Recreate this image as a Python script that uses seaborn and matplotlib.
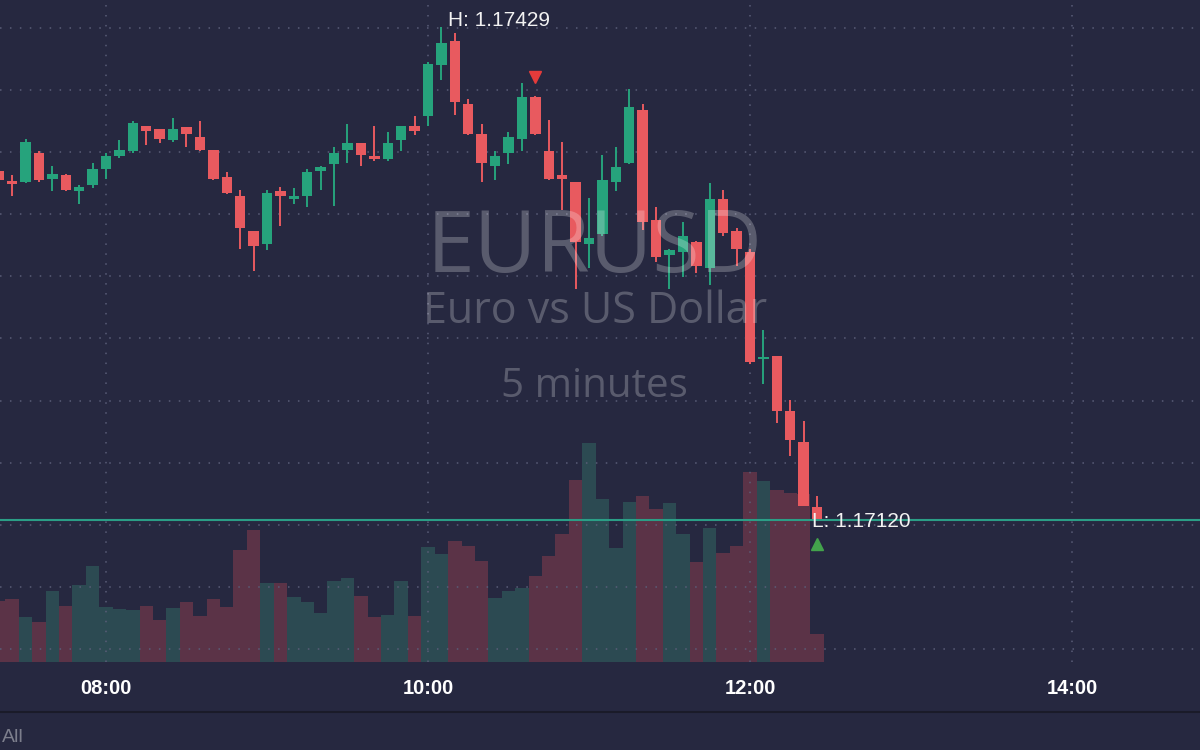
import numpy as np
import pandas as pd
import matplotlib
matplotlib.use("Agg")
import matplotlib.pyplot as plt
import matplotlib.transforms as mtransforms
from matplotlib.lines import Line2D
import seaborn as sns

# ---------------- data (EURUSD, 5 minute candles) ----------------
OPEN = [1.17339, 1.17332, 1.17332, 1.17350, 1.17334, 1.17336, 1.17326, 1.17330,
        1.17340, 1.17348, 1.17351, 1.17367, 1.17365, 1.17358, 1.17366, 1.17360,
        1.17352, 1.17335, 1.17323, 1.17301, 1.17293, 1.17326, 1.17321, 1.17323,
        1.17339, 1.17343, 1.17352, 1.17356, 1.17348, 1.17346, 1.17358, 1.17367,
        1.17373, 1.17405, 1.17420, 1.17381, 1.17362, 1.17342, 1.17350, 1.17359,
        1.17385, 1.17351, 1.17336, 1.17332, 1.17293, 1.17299, 1.17332, 1.17344,
        1.17377, 1.17308, 1.17286, 1.17288, 1.17294, 1.17278, 1.17321, 1.17301,
        1.17288, 1.17221, 1.17223, 1.17188, 1.17169, 1.17128]
HIGH = [1.17341, 1.17336, 1.17359, 1.17351, 1.17342, 1.17337, 1.17330, 1.17344,
        1.17350, 1.17358, 1.17370, 1.17367, 1.17365, 1.17372, 1.17366, 1.17370,
        1.17352, 1.17338, 1.17327, 1.17301, 1.17327, 1.17329, 1.17328, 1.17340,
        1.17342, 1.17354, 1.17368, 1.17356, 1.17367, 1.17363, 1.17367, 1.17373,
        1.17407, 1.17429, 1.17425, 1.17384, 1.17368, 1.17351, 1.17363, 1.17394,
        1.17386, 1.17371, 1.17357, 1.17332, 1.17322, 1.17349, 1.17354, 1.17390,
        1.17381, 1.17316, 1.17290, 1.17307, 1.17295, 1.17331, 1.17327, 1.17303,
        1.17290, 1.17239, 1.17223, 1.17195, 1.17182, 1.17135]
LOW = [1.17332, 1.17323, 1.17331, 1.17332, 1.17326, 1.17326, 1.17318, 1.17328,
       1.17334, 1.17347, 1.17350, 1.17355, 1.17356, 1.17357, 1.17354, 1.17351,
       1.17333, 1.17324, 1.17290, 1.17276, 1.17289, 1.17304, 1.17318, 1.17316,
       1.17327, 1.17317, 1.17344, 1.17342, 1.17345, 1.17345, 1.17351, 1.17361,
       1.17367, 1.17396, 1.17374, 1.17361, 1.17332, 1.17333, 1.17343, 1.17351,
       1.17361, 1.17333, 1.17314, 1.17265, 1.17278, 1.17298, 1.17326, 1.17343,
       1.17302, 1.17282, 1.17265, 1.17272, 1.17275, 1.17267, 1.17298, 1.17279,
       1.17218, 1.17205, 1.17181, 1.17160, 1.17129, 1.17120]
CLOSE = [1.17333, 1.17331, 1.17357, 1.17333, 1.17337, 1.17327, 1.17329, 1.17340,
         1.17348, 1.17352, 1.17369, 1.17364, 1.17359, 1.17365, 1.17362, 1.17352,
         1.17334, 1.17325, 1.17303, 1.17292, 1.17325, 1.17323, 1.17323, 1.17338,
         1.17341, 1.17350, 1.17356, 1.17349, 1.17346, 1.17356, 1.17367, 1.17364,
         1.17406, 1.17419, 1.17382, 1.17362, 1.17344, 1.17348, 1.17360, 1.17385,
         1.17362, 1.17334, 1.17334, 1.17294, 1.17297, 1.17333, 1.17341, 1.17379,
         1.17307, 1.17285, 1.17289, 1.17298, 1.17279, 1.17321, 1.17300, 1.17290,
         1.17219, 1.17222, 1.17188, 1.17170, 1.17129, 1.17120]
VOLUME = [610, 630, 450, 400, 710, 560, 770, 960,
          550, 530, 520, 560, 420, 540, 600, 460,
          630, 550, 1120, 1320, 790, 790, 650, 600,
          490, 810, 840, 660, 450, 470, 810, 460,
          1150, 1080, 1210, 1160, 1010, 640, 710, 740,
          860, 1060, 1280, 1820, 2190, 1630, 1140, 1600,
          1660, 1530, 1590, 1280, 1000, 1340, 1090, 1160,
          1900, 1810, 1720, 1690, 1680, 280]
TIMES = pd.date_range("2021-01-01 07:20", periods=len(OPEN), freq="5min")
TICK_TIMES = ["08:00", "10:00", "12:00", "14:00"]
SYMBOL = "EURUSD"
DESCRIPTION = "Euro vs US Dollar"
TIMEFRAME = "5 minutes"
RANGE_BUTTON = "All"
MARK_DOWN_TIME = "10:40"
MARK_UP_TIME = "12:25"

# ---------------- style ----------------
BG = "#262840"
UP = "#26a37c"
DOWN = "#e85a5f"
UP_VOL = "#2c4a52"
DOWN_VOL = "#5b3347"
GRID_C = "#55587292"
DOTS = (0, (1, 5.5))

sns.set_style("dark")
plt.rcParams["font.family"] = ["Liberation Sans", "DejaVu Sans"]

base = pd.Timestamp("2021-01-01 08:00")
df = pd.DataFrame({"time": TIMES, "open": OPEN, "high": HIGH, "low": LOW,
                   "close": CLOSE, "volume": VOLUME})
df["minute"] = (df["time"] - base).dt.total_seconds() / 60.0
df["dir"] = np.where(df["close"] >= df["open"], "up", "down")

W, H = 1200, 750
fig = plt.figure(figsize=(12, 7.5), dpi=100, facecolor=BG)
ax_vol = fig.add_axes([0, 1 - 662 / H, 1, 662 / H])
ax_vol.set_facecolor(BG)

# volume bars (seaborn)
sns.barplot(data=df, x="minute", y="volume", hue="dir",
            palette={"up": UP_VOL, "down": DOWN_VOL}, native_scale=True,
            dodge=False, width=1.0, errorbar=None, saturation=1,
            legend=False, linewidth=0, ax=ax_vol)
ax_vol.set_ylim(0, 6620)
x_min, x_max = -106 / 2.6833, (W - 106) / 2.6833
ax_vol.set_xlim(x_min, x_max)
tick_minutes = [(pd.Timestamp("2021-01-01 " + t) - base).total_seconds() / 60 for t in TICK_TIMES]
ax_vol.set_xticks(tick_minutes)
ax_vol.set_xticklabels(TICK_TIMES)
ax_vol.set_xlabel("")
ax_vol.set_ylabel("")
ax_vol.set_yticks([])
ax_vol.tick_params(axis="x", length=0, pad=12, labelcolor="white", labelsize=14.5)
for lab in ax_vol.get_xticklabels():
    lab.set_fontweight("bold")
ax_vol.set_axisbelow(False)
ax_vol.grid(True, axis="x", color="#5a5d78", linestyle=DOTS, linewidth=1.1)
ax_vol.grid(False, axis="y")
for s in ax_vol.spines.values():
    s.set_visible(False)

# price axes
ax_price = ax_vol.twinx()
ax_price.patch.set_visible(False)
ax_price.set_ylim(1.170310, 1.174459)
GRID_LEVELS = 1.174284 - 0.0003892 * np.arange(11)
ax_price.set_yticks(GRID_LEVELS)
ax_price.tick_params(axis="y", right=False, labelright=False, length=0)
ax_price.set_axisbelow(True)
ax_price.grid(True, axis="y", color="#5a5d78", linestyle=DOTS, linewidth=1.1)
for s in ax_price.spines.values():
    s.set_visible(False)

colors = np.where(df["dir"] == "up", UP, DOWN)
ax_price.vlines(df["minute"], df["low"], df["high"], colors=colors, lw=1.4, zorder=3)
body_lo = np.minimum(df["open"], df["close"]).to_numpy()
body_h = np.abs(df["close"] - df["open"]).to_numpy()
min_h = 0.000013
pad = np.clip(min_h - body_h, 0, None) / 2
ax_price.bar(df["minute"], body_h + 2 * pad, bottom=body_lo - pad, width=3.9,
             color=colors, linewidth=0, zorder=4)

# last price line
ax_price.axhline(df["close"].iloc[-1], color="#2b9e86", lw=1.5, zorder=5)

# high / low labels
i_hi = int(df["high"].idxmax())
i_lo = int(df["low"].idxmin())
ax_price.annotate(f"H: {df['high'].iloc[i_hi]:.5f}", xy=(df["minute"].iloc[i_hi], df["high"].iloc[i_hi]),
                  xytext=(7, 1), textcoords="offset pixels", ha="left", va="baseline",
                  color="#f2f2f2", fontsize=15, zorder=6)
ax_price.annotate(f"L: {df['low'].iloc[i_lo]:.5f}", xy=(df["minute"].iloc[i_lo], df["low"].iloc[i_lo]),
                  xytext=(-4.6, -7.3), textcoords="offset pixels", ha="left", va="baseline",
                  color="#f2f2f2", fontsize=15, zorder=6)

# markers
i_dn = int(np.where(df["time"].dt.strftime("%H:%M") == MARK_DOWN_TIME)[0][0])
i_up = int(np.where(df["time"].dt.strftime("%H:%M") == MARK_UP_TIME)[0][0])
tr_up = mtransforms.offset_copy(ax_price.transData, fig=fig, x=0, y=19, units="dots")
tr_dn = mtransforms.offset_copy(ax_price.transData, fig=fig, x=0, y=-24, units="dots")
ax_price.plot([df["minute"].iloc[i_dn]], [df["high"].iloc[i_dn]], marker="v",
              color="#e53b3b", markersize=8.6, linestyle="none", transform=tr_up, zorder=6)
ax_price.plot([df["minute"].iloc[i_up]], [df["low"].iloc[i_up]], marker="^",
              color="#43a34c", markersize=8.6, linestyle="none", transform=tr_dn, zorder=6)

# watermark
wm = dict(color="white", alpha=0.24, ha="center", va="baseline", family=["Open Sans", "DejaVu Sans"])
fig.text(594.7 / W, 1 - 271.7 / H, SYMBOL, fontsize=62, **wm)
fig.text(595 / W, 1 - 322.7 / H, DESCRIPTION, fontsize=31, **wm)
fig.text(594 / W, 1 - 396.7 / H, TIMEFRAME, fontsize=29, **wm)

# bottom separator and range button
fig.add_artist(Line2D([0, 1], [1 - 712 / H, 1 - 712 / H], color="#1a1b29", lw=1.5))
fig.text(0.002, 1 - 729 / H, RANGE_BUTTON, color="#7c7e8c", fontsize=14, ha="left", va="top")

fig.savefig("out.png", dpi=100, facecolor=BG)
